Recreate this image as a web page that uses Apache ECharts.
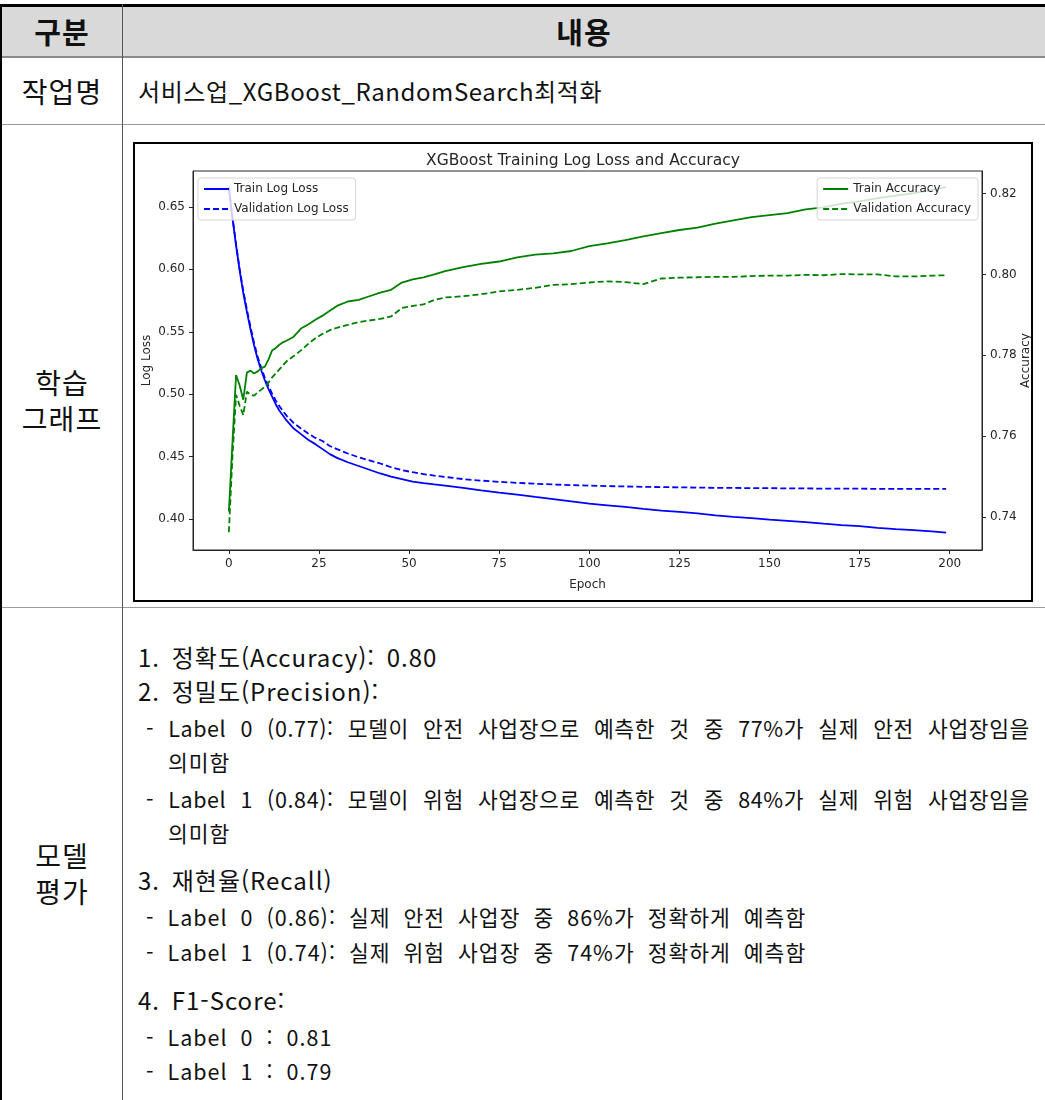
<!DOCTYPE html>
<html lang="ko">
<head>
<meta charset="utf-8">
<title>서비스업_XGBoost_RandomSearch최적화</title>
<script src="https://cdn.jsdelivr.net/npm/echarts@6/dist/echarts.min.js"></script>
<style>
  html, body { margin: 0; padding: 0; background: #fff; }
  body { width: 1045px; height: 1100px; position: relative; overflow: hidden;
         font-family: "Noto Sans CJK KR", "Noto Sans", sans-serif; color: #111; }
  .abs { position: absolute; }
  .hdr { background: #d9d9d9; }
  .line-h { position: absolute; left: 0; width: 1045px; }
  .cellL { position: absolute; left: 2px; width: 120px; text-align: center; font-size: 28px; letter-spacing: 1px; line-height: 36px; }
  .head { position: absolute; top: 10px; text-align: center; font-size: 29px; font-weight: 700; letter-spacing: 1px; line-height: 42px; }
  .txt { position: absolute; left: 138px; white-space: nowrap; line-height: 32px; }
  .big { font-size: 24px; letter-spacing: 1px; word-spacing: 4px; }
  .sub { font-size: 21.5px; letter-spacing: 1px; word-spacing: 6px; }
  .just { text-align: justify; text-align-last: justify; white-space: nowrap; word-spacing: 0; letter-spacing: 0.6px; }
  #chartBox { position: absolute; left: 133px; top: 142px; width: 896px; height: 456px; border: 2px solid #000; background: #fff; }
  #chart { width: 896px; height: 456px; }
</style>
</head>
<body>
  <!-- header row -->
  <div class="abs hdr" style="left:0; top:5px; width:1045px; height:52px;"></div>
  <div class="head" style="left:2px; width:120px;">구분</div>
  <div class="head" style="left:123px; width:922px;">내용</div>

  <!-- table rules -->
  <div class="line-h" style="top:4px; height:3px; background:#000;"></div>
  <div class="line-h" style="top:56px; height:2px; background:#8a8a8a;"></div>
  <div class="line-h" style="top:124px; height:1px; background:#9a9a9a;"></div>
  <div class="line-h" style="top:607px; height:1px; background:#9a9a9a;"></div>
  <div class="abs" style="left:0; top:4px; width:2px; height:1096px; background:#000;"></div>
  <div class="abs" style="left:122px; top:4px; width:1px; height:1096px; background:#555;"></div>

  <!-- row: 작업명 -->
  <div class="cellL" style="top:73px;">작업명</div>
  <div class="txt" style="top:75px; font-size:24px; letter-spacing:0.6px;">서비스업_XGBoost_RandomSearch최적화</div>

  <!-- row: 학습 그래프 -->
  <div class="cellL" style="top:364px;">학습<br>그래프</div>
  <div id="chartBox"><div id="chart"></div></div>

  <!-- row: 모델 평가 -->
  <div class="cellL" style="top:837px;">모델<br>평가</div>
  <div class="txt big" style="top:641px;">1. 정확도(Accuracy): 0.80</div>
  <div class="txt big" style="top:675px;">2. 정밀도(Precision):</div>
  <div class="txt sub just" style="top:712px; left:146px; width:884px;">- Label 0 (0.77): 모델이 안전 사업장으로 예측한 것 중 77%가 실제 안전 사업장임을</div>
  <div class="txt sub" style="top:746px; left:168px;">의미함</div>
  <div class="txt sub just" style="top:783px; left:146px; width:884px;">- Label 1 (0.84): 모델이 위험 사업장으로 예측한 것 중 84%가 실제 위험 사업장임을</div>
  <div class="txt sub" style="top:817px; left:168px;">의미함</div>
  <div class="txt big" style="top:864px;">3. 재현율(Recall)</div>
  <div class="txt sub" style="top:901px; left:146px;">- Label 0 (0.86): 실제 안전 사업장 중 86%가 정확하게 예측함</div>
  <div class="txt sub" style="top:936px; left:146px;">- Label 1 (0.74): 실제 위험 사업장 중 74%가 정확하게 예측함</div>
  <div class="txt big" style="top:984px;">4. F1-Score:</div>
  <div class="txt sub" style="top:1021px; left:146px;">- Label 0 : 0.81</div>
  <div class="txt sub" style="top:1055px; left:146px;">- Label 1 : 0.79</div>

<script>
// Epochs at which the training history is plotted
const epochs = [0,1,2,3,4,5,6,7,8,9,10,11,12,13,14,15,16,18,20,22,24,26,28,30,
  33,36,39,42,45,48,51,54,57,60,65,70,75,80,85,90,95,100,105,110,115,120,125,130,
  135,140,145,150,155,160,165,170,175,180,185,190,195,199];

const trainLogLoss = [0.665,0.641,0.619,0.599,0.581,0.566,0.552,0.539,0.528,0.519,0.511,0.504,0.498,0.492,0.487,0.483,0.479,0.4725,0.468,0.4635,0.460,0.456,0.452,0.449,
  0.4455,0.4425,0.4395,0.4365,0.434,0.432,0.430,0.4288,0.4277,0.4267,0.4250,0.4230,0.4211,0.4195,0.4177,0.4160,0.4142,0.4123,0.4110,0.4097,0.4082,0.4068,0.4058,0.4045,
  0.4030,0.4018,0.4007,0.3996,0.3986,0.3975,0.3963,0.3952,0.3943,0.3930,0.3919,0.3911,0.3902,0.3891];

const valLogLoss = [0.666,0.642,0.620,0.600,0.583,0.568,0.554,0.541,0.530,0.521,0.513,0.5065,0.5005,0.495,0.4905,0.4865,0.4828,0.4768,0.4725,0.4685,0.465,0.4625,0.4585,0.456,
  0.4525,0.4495,0.447,0.4445,0.4415,0.4392,0.4375,0.436,0.4348,0.4337,0.432,0.4308,0.4298,0.429,0.4283,0.4277,0.4272,0.4268,0.4264,0.4261,0.4258,0.4256,0.4254,0.4252,
  0.425,0.4249,0.4248,0.4247,0.4246,0.4245,0.4244,0.4243,0.4243,0.4242,0.4242,0.4241,0.4241,0.4241];

const trainAccuracy = [0.7413,0.7585,0.7751,0.7725,0.769,0.7757,0.7762,0.7755,0.776,0.7768,0.7772,0.779,0.7812,0.7818,0.7826,0.7832,0.7836,0.7846,0.7866,0.7876,0.7888,0.7898,0.791,0.7922,
  0.7933,0.7937,0.7946,0.7955,0.7962,0.798,0.7988,0.7993,0.8000,0.8008,0.8018,0.8026,0.8032,0.8042,0.8049,0.8052,0.8058,0.807,0.8077,0.8085,0.8094,0.8102,0.811,0.8116,
  0.8126,0.8134,0.8142,0.8147,0.8152,0.8161,0.8166,0.8175,0.8181,0.8189,0.8195,0.8201,0.8209,0.8216];

const valAccuracy = [0.7362,0.755,0.7702,0.7675,0.7652,0.771,0.7702,0.7700,0.7708,0.7715,0.7722,0.7732,0.7745,0.7755,0.7765,0.7775,0.7785,0.7798,0.7812,0.7828,0.7842,0.7853,0.7862,0.7868,
  0.7875,0.7882,0.7886,0.789,0.7896,0.7917,0.7922,0.7926,0.7937,0.7943,0.7946,0.7951,0.7958,0.7962,0.7967,0.7974,0.7976,0.798,0.7983,0.7981,0.7976,0.799,0.7992,0.7993,
  0.7994,0.7994,0.7996,0.7997,0.7997,0.7999,0.7998,0.8001,0.8000,0.8000,0.7995,0.7995,0.7997,0.7998];

// Tick positions
const epochTicks = [0,25,50,75,100,125,150,175,200];
const lossTicks = [0.40,0.45,0.50,0.55,0.60,0.65];
const accTicks = [0.74,0.76,0.78,0.80,0.82];

const pair = (ys) => epochs.map((e, i) => [e, ys[i]]);

const FONT = 'DejaVu Sans';
const INK = '#262626';
const BLUE = '#0000ff';
const GREEN = '#008000';
const DASH = [6, 3];

const axisCommon = {
  axisLine: { show: true, onZero: false, lineStyle: { color: INK, width: 1 } },
  axisTick: { show: true, length: 4, lineStyle: { color: INK, width: 1 } },
  axisLabel: { color: INK, fontFamily: FONT, fontSize: 12 },
  splitLine: { show: false },
  nameMoveOverlap: false,
  nameTextStyle: { color: INK, fontFamily: FONT, fontSize: 12 }
};

const legendCommon = {
  orient: 'vertical',
  top: 34,
  itemWidth: 25,
  itemHeight: 12,
  itemGap: 8,
  padding: [5, 7, 5, 5],
  backgroundColor: 'rgba(255,255,255,0.8)',
  borderColor: '#d6d6d6',
  borderWidth: 1,
  borderRadius: 3,
  itemStyle: { opacity: 0 },
  textStyle: { color: INK, fontFamily: FONT, fontSize: 12 }
};

const chart = echarts.init(document.getElementById('chart'), null, { renderer: 'canvas' });
chart.setOption({
  animation: false,
  backgroundColor: '#fff',
  title: {
    text: 'XGBoost Training Log Loss and Accuracy',
    left: 'center', top: 4,
    textStyle: { color: INK, fontFamily: FONT, fontSize: 15.5, fontWeight: 'normal' }
  },
  grid: { left: 58, top: 27, right: 49, bottom: 50, outerBoundsMode: 'none', containLabel: false,
          show: true, borderColor: INK, borderWidth: 1, backgroundColor: 'transparent' },
  legend: [
    Object.assign({}, legendCommon, { left: 63, data: ['Train Log Loss', 'Validation Log Loss'] }),
    Object.assign({}, legendCommon, { right: 53, data: ['Train Accuracy', 'Validation Accuracy'] })
  ],
  xAxis: Object.assign({}, axisCommon, {
    type: 'value', min: -9.95, max: 208.95,
    name: 'Epoch', nameLocation: 'middle', nameGap: 29,
    axisTick: Object.assign({}, axisCommon.axisTick, { customValues: epochTicks }),
    axisLabel: Object.assign({}, axisCommon.axisLabel, { customValues: epochTicks, margin: 8 })
  }),
  yAxis: [
    Object.assign({}, axisCommon, {
      type: 'value', position: 'left', min: 0.3752, max: 0.6788,
      name: 'Log Loss', nameLocation: 'middle', nameGap: 40, nameRotate: 90,
      axisTick: Object.assign({}, axisCommon.axisTick, { customValues: lossTicks }),
      axisLabel: Object.assign({}, axisCommon.axisLabel, { customValues: lossTicks, formatter: v => v.toFixed(2) })
    }),
    Object.assign({}, axisCommon, {
      type: 'value', position: 'right', min: 0.7318, max: 0.8256,
      name: 'Accuracy', nameLocation: 'middle', nameGap: 38, nameRotate: 90,
      axisTick: Object.assign({}, axisCommon.axisTick, { customValues: accTicks }),
      axisLabel: Object.assign({}, axisCommon.axisLabel, { customValues: accTicks, formatter: v => v.toFixed(2) })
    })
  ],
  series: [
    { name: 'Train Log Loss', type: 'line', yAxisIndex: 0, data: pair(trainLogLoss), showSymbol: false, symbol: 'none',
      lineStyle: { color: BLUE, width: 1.8 }, itemStyle: { color: BLUE } },
    { name: 'Validation Log Loss', type: 'line', yAxisIndex: 0, data: pair(valLogLoss), showSymbol: false, symbol: 'none',
      lineStyle: { color: BLUE, width: 1.8, type: DASH }, itemStyle: { color: BLUE } },
    { name: 'Train Accuracy', type: 'line', yAxisIndex: 1, data: pair(trainAccuracy), showSymbol: false, symbol: 'none',
      lineStyle: { color: GREEN, width: 1.8 }, itemStyle: { color: GREEN } },
    { name: 'Validation Accuracy', type: 'line', yAxisIndex: 1, data: pair(valAccuracy), showSymbol: false, symbol: 'none',
      lineStyle: { color: GREEN, width: 1.8, type: DASH }, itemStyle: { color: GREEN } }
  ]
});
</script>
</body>
</html>
